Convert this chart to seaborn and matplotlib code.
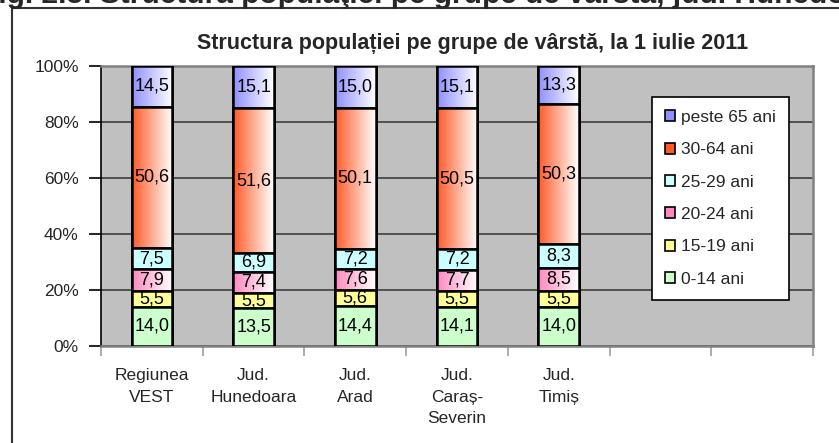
import numpy as np
import pandas as pd
import matplotlib
matplotlib.use("Agg")
import matplotlib.pyplot as plt
import seaborn as sns
from matplotlib.patches import Rectangle, Patch
from matplotlib.colors import to_rgb
from matplotlib.ticker import FixedLocator, FuncFormatter

# Date: structura populatiei pe grupe de varsta (%), 1 iulie 2011
judete = ["Regiunea\nVEST", "Jud.\nHunedoara", "Jud.\nArad", "Jud.\nCaraș-\nSeverin", "Jud.\nTimiș"]
grupe = ["0-14 ani", "15-19 ani", "20-24 ani", "25-29 ani", "30-64 ani", "peste 65 ani"]
v_0_14 = [14.0, 13.5, 14.4, 14.1, 14.0]
v_15_19 = [5.5, 5.5, 5.6, 5.5, 5.5]
v_20_24 = [7.9, 7.4, 7.6, 7.7, 8.5]
v_25_29 = [7.5, 6.9, 7.2, 7.2, 8.3]
v_30_64 = [50.6, 51.6, 50.1, 50.5, 50.3]
v_65 = [14.5, 15.1, 15.0, 15.1, 13.3]
y_ticks = [0, 20, 40, 60, 80, 100]

valori = [v_0_14, v_15_19, v_20_24, v_25_29, v_30_64, v_65]
# culoare stanga -> culoare dreapta (gradient Excel)
culori = {
    "0-14 ani": ("#CCFFCC", "#CCFFCC"),
    "15-19 ani": ("#FFFF99", "#FFFF99"),
    "20-24 ani": ("#FF88C0", "#FFFFFF"),
    "25-29 ani": ("#CCFFFF", "#CCFFFF"),
    "30-64 ani": ("#FF5A28", "#FFFFFF"),
    "peste 65 ani": ("#9090FF", "#FFFFFF"),
}

df = pd.DataFrame(dict(zip(grupe, valori)), index=judete)
cum = df.cumsum(axis=1)

sns.set_theme(style="white")
plt.rcParams["font.family"] = ["Liberation Sans", "DejaVu Sans"]

W, H = 839, 443
fig = plt.figure(figsize=(W / 100, H / 100), dpi=100)
ax = fig.add_axes([101 / W, 1 - 346 / H, (813 - 101) / W, (346 - 66) / H])
ax.set_facecolor("#C0C0C0")

# bare cumulate, de sus in jos, fiecare peste cea anterioara
for i, g in enumerate(grupe[::-1]):
    z = 3 + i
    n0 = len(ax.patches)
    sns.barplot(x=judete, y=cum[g].values, order=judete, color=culori[g][0],
                saturation=1, width=0.4, edgecolor="black", linewidth=1.8,
                zorder=z, ax=ax)
    c1 = np.array(to_rgb(culori[g][0]))
    c2 = np.array(to_rgb(culori[g][1]))
    t = np.linspace(0, 1, 64)[None, :, None]
    grad = c1 * (1 - t) + c2 * t
    for p in ax.patches[n0:]:
        x0, y0, w, h = p.get_x(), p.get_y(), p.get_width(), p.get_height()
        im = ax.imshow(grad, extent=[x0, x0 + w, y0, y0 + h], aspect="auto",
                       zorder=z + 0.1, interpolation="bilinear")
        im.set_clip_path(p)
        ax.add_patch(Rectangle((x0, y0), w, h, fill=False, ec="black",
                               lw=1.8, zorder=z + 0.2))

# etichete valori
for k, g in enumerate(grupe):
    for j in range(len(judete)):
        mid = cum[g].values[j] - df[g].values[j] / 2
        ax.text(j, mid, f"{df[g].values[j]:.1f}".replace(".", ","), ha="center",
                va="center", fontsize=13, color="black", zorder=20)

ax.set_xlim(-0.5, 6.5)
ax.set_ylim(0, 100)
ax.set_xlabel("")
ax.set_ylabel("")
ax.set_yticks(y_ticks)
ax.yaxis.set_major_formatter(FuncFormatter(lambda v, _: f"{v:.0f}%"))
ax.set_axisbelow(True)
ax.yaxis.grid(True, color="#333333", lw=1.1)
ax.xaxis.grid(False)

ax.set_xticks(range(len(judete)))
ax.set_xticklabels(judete, fontsize=12.5, linespacing=1.55)
ax.xaxis.set_minor_locator(FixedLocator(np.arange(-0.5, 7.0, 1.0)))
ax.tick_params(axis="x", which="major", length=0, pad=16)
ax.tick_params(axis="x", which="minor", length=7, color="#A0A0A0", width=1.2,
               bottom=True)
ax.tick_params(axis="y", length=9, color="black", width=1.2, left=True,
               labelsize=12.5, pad=7)
for s in ["top", "right", "bottom"]:
    ax.spines[s].set_color("#808080")
    ax.spines[s].set_linewidth(1.8)
ax.spines["left"].set_color("black")
ax.spines["left"].set_linewidth(1.2)

# legenda
handles = [Patch(facecolor=culori[g][0], edgecolor="black", lw=1.2) for g in grupe[::-1]]
leg = ax.legend(handles, grupe[::-1], loc="upper left",
                bbox_to_anchor=((652 - 101) / 712, (346 - 97) / 280),
                fontsize=12.5, frameon=True, fancybox=False, framealpha=1,
                edgecolor="black", facecolor="white", borderpad=0.75,
                labelspacing=1.0, handlelength=0.6, handleheight=0.6,
                handletextpad=0.3, borderaxespad=0)
leg.get_frame().set_linewidth(1.2)
leg.set_zorder(30)

# titlu grafic
fig.text(473 / W, 1 - 44 / H, "Structura populației pe grupe de vârstă, la 1 iulie 2011",
         ha="center", va="center", fontsize=15.5, fontweight="bold")

# titlu figura (taiat sus, ca in original)
fig.text(-20 / W, 1 - 3 / H, "Fig. 2.5. Structura populaţiei pe grupe de vârstă, jud. Hunedoara",
         ha="left", va="baseline", fontsize=21.5, fontweight="bold")

# chenar grafic
fig.patches.append(Rectangle((12 / W, -0.1), 1.2, 1 - 8 / H + 0.1, transform=fig.transFigure,
                             fill=False, ec="#333333", lw=1.5, zorder=0))

fig.savefig("out.png", dpi=100, facecolor="white")
